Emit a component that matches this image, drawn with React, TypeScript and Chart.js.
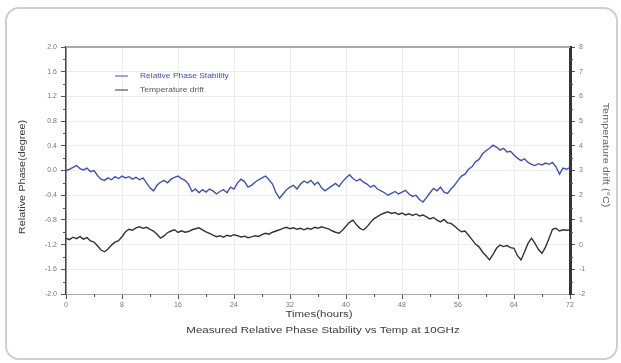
import React, { useEffect, useRef } from "react";
import { Chart, registerables } from "chart.js";

Chart.register(...registerables);

const hours: number[] = [
  0, 0.5, 1, 1.5, 2, 2.5, 3, 3.5, 4, 4.5,
  5, 5.5, 6, 6.5, 7, 7.5, 8, 8.5, 9, 9.5,
  10, 10.5, 11, 11.5, 12, 12.5, 13, 13.5, 14, 14.5,
  15, 15.5, 16, 16.5, 17, 17.5, 18, 18.5, 19, 19.5,
  20, 20.5, 21, 21.5, 22, 22.5, 23, 23.5, 24, 24.5,
  25, 25.5, 26, 26.5, 27, 27.5, 28, 28.5, 29, 29.5,
  30, 30.5, 31, 31.5, 32, 32.5, 33, 33.5, 34, 34.5,
  35, 35.5, 36, 36.5, 37, 37.5, 38, 38.5, 39, 39.5,
  40, 40.5, 41, 41.5, 42, 42.5, 43, 43.5, 44, 44.5,
  45, 45.5, 46, 46.5, 47, 47.5, 48, 48.5, 49, 49.5,
  50, 50.5, 51, 51.5, 52, 52.5, 53, 53.5, 54, 54.5,
  55, 55.5, 56, 56.5, 57, 57.5, 58, 58.5, 59, 59.5,
  60, 60.5, 61, 61.5, 62, 62.5, 63, 63.5, 64, 64.5,
  65, 65.5, 66, 66.5, 67, 67.5, 68, 68.5, 69, 69.5,
  70, 70.5, 71, 71.5, 72,
];

const relativePhase: number[] = [
  0.0, 0.02, 0.05, 0.08, 0.03, 0.01, 0.04, -0.02, 0.0, -0.08,
  -0.14, -0.16, -0.12, -0.15, -0.1, -0.13, -0.09, -0.12, -0.1, -0.14,
  -0.11, -0.15, -0.12, -0.2, -0.28, -0.33, -0.24, -0.19, -0.16, -0.2,
  -0.14, -0.11, -0.09, -0.13, -0.16, -0.22, -0.34, -0.3, -0.36, -0.31,
  -0.35, -0.3, -0.33, -0.38, -0.34, -0.31, -0.36, -0.27, -0.3, -0.2,
  -0.14, -0.18, -0.27, -0.24, -0.19, -0.15, -0.12, -0.09, -0.15, -0.22,
  -0.36, -0.45, -0.38, -0.31, -0.27, -0.24, -0.3, -0.22, -0.17, -0.2,
  -0.16, -0.23, -0.19, -0.28, -0.33, -0.29, -0.25, -0.21, -0.26, -0.18,
  -0.12, -0.07, -0.13, -0.17, -0.14, -0.19, -0.22, -0.27, -0.24, -0.3,
  -0.33, -0.36, -0.4, -0.37, -0.34, -0.38, -0.35, -0.32, -0.38, -0.42,
  -0.4, -0.47, -0.51, -0.44, -0.36, -0.29, -0.33, -0.27, -0.35, -0.37,
  -0.3, -0.24, -0.16, -0.09, -0.06, 0.02, 0.06, 0.14, 0.18, 0.27,
  0.32, 0.36, 0.41, 0.38, 0.33, 0.36, 0.3, 0.31, 0.25, 0.2,
  0.16, 0.19, 0.13, 0.1, 0.08, 0.11, 0.09, 0.12, 0.1, 0.13,
  0.06, -0.06, 0.04, 0.02, 0.05,
];

const temperatureDrift: number[] = [
  0.26, 0.2, 0.3, 0.24, 0.32, 0.22, 0.28, 0.15, 0.1, -0.05,
  -0.22, -0.29, -0.18, -0.02, 0.1, 0.16, 0.32, 0.52, 0.62, 0.58,
  0.68, 0.72, 0.66, 0.7, 0.62, 0.55, 0.42, 0.26, 0.35, 0.48,
  0.55, 0.6, 0.49, 0.56, 0.5, 0.53, 0.6, 0.64, 0.68, 0.6,
  0.52, 0.45, 0.38, 0.32, 0.36, 0.3, 0.38, 0.34, 0.4, 0.36,
  0.31, 0.34, 0.28, 0.31, 0.36, 0.33, 0.4, 0.46, 0.42, 0.5,
  0.55, 0.6, 0.66, 0.7, 0.64, 0.68, 0.62, 0.66, 0.6, 0.66,
  0.62, 0.7, 0.66, 0.72, 0.68, 0.64, 0.56, 0.5, 0.46, 0.58,
  0.74, 0.9, 0.99, 0.8, 0.66, 0.59, 0.72, 0.9, 1.05, 1.13,
  1.22, 1.28, 1.33, 1.26, 1.3, 1.22, 1.28, 1.2, 1.25, 1.18,
  1.24, 1.16, 1.2, 1.12, 1.04, 1.1, 0.99, 0.92, 1.02, 0.88,
  0.86, 0.75, 0.62, 0.52, 0.55, 0.38, 0.2, 0.02, -0.09, -0.3,
  -0.45, -0.62, -0.4, -0.15, -0.02, -0.08, -0.04, -0.12, -0.15, -0.45,
  -0.62, -0.3, 0.05, 0.26, 0.05, -0.2, -0.35, -0.1, 0.25, 0.62,
  0.66, 0.55, 0.6, 0.58, 0.59,
];

const seriesNames: string[] = ["Relative Phase Stability", "Temperature drift"];
const xAxisTitle = "Times(hours)";
const chartSubtitle = "Measured Relative Phase Stability vs Temp at 10GHz";
const leftAxisTitle = "Relative Phase(degree)";
const rightAxisTitle = "Temperature drift (°C)";

const FONT = "'Liberation Sans', Arial, sans-serif";
const BLUE = "#4050b8";
const DARK = "#333333";

function stretchedText(ctx: any, text: string, x: number, y: number, sx: number, rot: number) {
  ctx.save();
  ctx.translate(x, y);
  ctx.rotate(rot);
  ctx.scale(sx, 1);
  ctx.fillText(text, 0, 0);
  ctx.restore();
}

const overlayPlugin = {
  id: "overlay",
  afterDraw(chart: any) {
    const { ctx, chartArea } = chart;
    const { left, right, top, bottom } = chartArea;
    const x = chart.scales.x;
    const y = chart.scales.y;
    const y2 = chart.scales.y2;
    ctx.save();
    // top frame
    ctx.strokeStyle = "#aaaaaa";
    ctx.lineWidth = 2;
    ctx.beginPath();
    ctx.moveTo(left, top);
    ctx.lineTo(right, top);
    ctx.stroke();
    // minor ticks
    ctx.strokeStyle = "#555";
    ctx.lineWidth = 1;
    ctx.beginPath();
    for (let h = 4; h < 72; h += 8) {
      const px = Math.round(x.getPixelForValue(h)) + 0.5;
      ctx.moveTo(px, bottom);
      ctx.lineTo(px, bottom + 3);
    }
    for (let v = -1.8; v < 2; v += 0.4) {
      const py = Math.round(y.getPixelForValue(v)) + 0.5;
      ctx.moveTo(left - 3, py);
      ctx.lineTo(left, py);
    }
    for (let v = -1.5; v < 8; v += 1) {
      const py = Math.round(y2.getPixelForValue(v)) + 0.5;
      ctx.moveTo(right, py);
      ctx.lineTo(right + 3, py);
    }
    ctx.stroke();
    // legend
    const lx = left + 49;
    const ly1 = top + 29;
    const ly2 = top + 43;
    ctx.lineWidth = 1;
    ctx.strokeStyle = BLUE;
    ctx.beginPath();
    ctx.moveTo(lx, ly1);
    ctx.lineTo(lx + 13, ly1);
    ctx.stroke();
    ctx.strokeStyle = DARK;
    ctx.beginPath();
    ctx.moveTo(lx, ly2);
    ctx.lineTo(lx + 13, ly2);
    ctx.stroke();
    ctx.font = `6.5px ${FONT}`;
    ctx.textBaseline = "middle";
    ctx.textAlign = "left";
    ctx.fillStyle = BLUE;
    stretchedText(ctx, seriesNames[0], lx + 25, ly1, 1.3, 0);
    ctx.fillStyle = "#555";
    stretchedText(ctx, seriesNames[1], lx + 25, ly2, 1.3, 0);
    // axis titles
    ctx.fillStyle = "#3a3a3a";
    ctx.textAlign = "center";
    ctx.font = `8.5px ${FONT}`;
    stretchedText(ctx, xAxisTitle, 319, 315, 1.35, 0);
    ctx.font = `9px ${FONT}`;
    stretchedText(ctx, chartSubtitle, 323, 331, 1.28, 0);
    ctx.font = `8.5px ${FONT}`;
    stretchedText(ctx, leftAxisTitle, 23, 177, 1.28, -Math.PI / 2);
    ctx.fillStyle = "#666";
    stretchedText(ctx, rightAxisTitle, 605, 155, 1.28, Math.PI / 2);
    ctx.restore();
  },
};

export default function App() {
  const canvasRef = useRef<HTMLCanvasElement | null>(null);

  useEffect(() => {
    document.body.style.margin = "0";
    const canvas = canvasRef.current;
    if (!canvas) return;
    const chart = new Chart(canvas, {
      type: "line",
      data: {
        datasets: [
          {
            label: seriesNames[0],
            data: hours.map((h, i) => ({ x: h, y: relativePhase[i] })),
            borderColor: BLUE,
            borderWidth: 1.4,
            pointRadius: 0,
            tension: 0,
            yAxisID: "y",
          },
          {
            label: seriesNames[1],
            data: hours.map((h, i) => ({ x: h, y: temperatureDrift[i] })),
            borderColor: DARK,
            borderWidth: 1.4,
            pointRadius: 0,
            tension: 0,
            yAxisID: "y2",
          },
        ],
      },
      options: {
        responsive: false,
        animation: false,
        events: [],
        layout: { padding: { top: 47, left: 0, right: 0, bottom: 0 } },
        plugins: {
          legend: { display: false },
          tooltip: { enabled: false },
          title: { display: false },
        },
        scales: {
          x: {
            type: "linear",
            min: 0,
            max: 72,
            afterFit: (s: any) => {
              s.height = 69;
            },
            ticks: {
              stepSize: 8,
              color: "#777",
              font: { size: 7, family: FONT },
              padding: 2,
              maxRotation: 0,
            },
            grid: {
              color: "#ececec",
              tickColor: "#555",
              tickLength: 5,
            },
            border: { color: "#a8a8a8", width: 1 },
          },
          y: {
            type: "linear",
            position: "left",
            min: -2,
            max: 2,
            afterFit: (s: any) => {
              s.width = 66;
            },
            ticks: {
              stepSize: 0.4,
              color: "#777",
              font: { size: 7, family: FONT },
              padding: 4,
              callback: (v: any) => (Math.abs(v) < 1e-9 ? "0.0" : Number(v).toFixed(1)),
            },
            grid: {
              color: "#ececec",
              tickColor: "#555",
              tickLength: 5,
            },
            border: { color: "#444", width: 1.5 },
          },
          y2: {
            type: "linear",
            position: "right",
            min: -2,
            max: 8,
            afterFit: (s: any) => {
              s.width = 51;
            },
            ticks: {
              stepSize: 1,
              color: "#777",
              font: { size: 7, family: FONT },
              padding: 4,
            },
            grid: {
              drawOnChartArea: false,
              tickColor: "#555",
              tickLength: 5,
            },
            border: { color: "#333", width: 3 },
          },
        },
      },
      plugins: [overlayPlugin],
    } as any);
    return () => chart.destroy();
  }, []);

  return (
    <div style={{ position: "relative", width: 621, height: 363, background: "#fff" }}>
      <div
        style={{
          position: "absolute",
          left: 5,
          top: 7,
          width: 609,
          height: 349,
          border: "2px solid #cfcfcf",
          borderRadius: 14,
          boxSizing: "content-box",
        }}
      />
      <canvas
        ref={canvasRef}
        width={621}
        height={363}
        style={{ position: "absolute", left: 0, top: 0, width: 621, height: 363 }}
      />
    </div>
  );
}
